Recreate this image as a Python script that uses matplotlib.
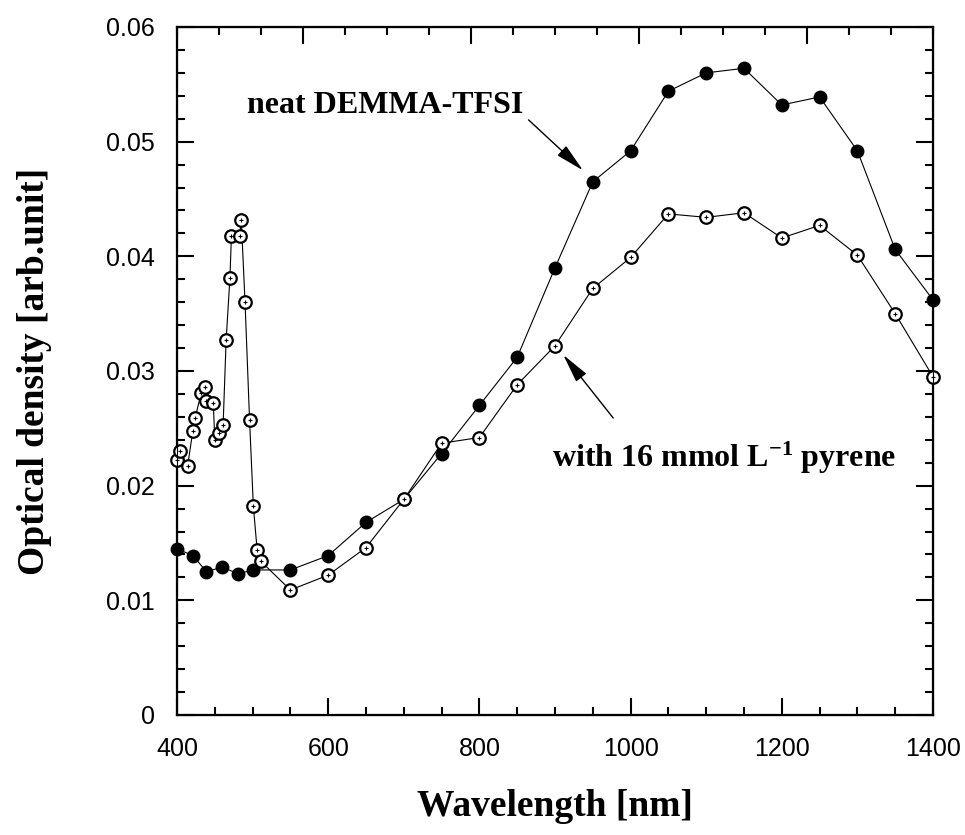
"""Optical density spectra of neat DEMMA-TFSI and with 16 mmol/L pyrene."""
import numpy as np
import matplotlib
matplotlib.use("Agg")
import matplotlib.pyplot as plt
from matplotlib.ticker import MultipleLocator

# neat DEMMA-TFSI (filled circles)
neat_wl = [400, 421, 439, 460, 481, 500, 550, 600, 650, 700, 750, 800, 850,
           900, 950, 1000, 1050, 1100, 1150, 1200, 1250, 1300, 1350, 1400]
neat_od = [0.0145, 0.0139, 0.0125, 0.0129, 0.0123, 0.01265, 0.01265, 0.0139,
           0.0168, 0.0188, 0.0228, 0.0270, 0.0312, 0.0390, 0.0465, 0.0492,
           0.0544, 0.0560, 0.0564, 0.0532, 0.0539, 0.0492, 0.0406, 0.0362]

# with 16 mmol/L pyrene (open circles)
pyr_wl = [400, 404, 414, 421, 424, 432, 437, 439, 448, 450, 456, 461, 465,
          470, 472, 483, 485, 490, 496, 501, 506, 511, 550, 600, 650, 700,
          750, 800, 850, 900, 950, 1000, 1050, 1100, 1150, 1200, 1250, 1300,
          1350, 1400]
pyr_od = [0.0222, 0.0230, 0.0217, 0.0248, 0.0259, 0.0281, 0.0286, 0.0274,
          0.0272, 0.0240, 0.0246, 0.0253, 0.0327, 0.0381, 0.0418, 0.0418,
          0.0432, 0.0360, 0.0257, 0.0182, 0.0144, 0.0134, 0.0109, 0.0122,
          0.0146, 0.0188, 0.0237, 0.0242, 0.0288, 0.0322, 0.0372, 0.0399,
          0.0437, 0.0434, 0.0438, 0.0416, 0.0427, 0.0401, 0.0350, 0.0295]

x_ticks = [400, 600, 800, 1000, 1200, 1400]
y_ticks = [0, 0.01, 0.02, 0.03, 0.04, 0.05, 0.06]
y_tick_labels = ["0", "0.01", "0.02", "0.03", "0.04", "0.05", "0.06"]

serif = "Liberation Serif"
sans = "Liberation Sans"
plt.rcParams["mathtext.fontset"] = "custom"
plt.rcParams["mathtext.rm"] = "Liberation Serif:bold"
plt.rcParams["mathtext.bf"] = "Liberation Serif:bold"
plt.rcParams["mathtext.default"] = "bf"

fig = plt.figure(figsize=(9.65, 8.35), dpi=100)
ax = fig.add_axes([177 / 965, 120 / 835, 756 / 965, 688 / 835])

ax.plot(neat_wl, neat_od, "-", color="black", lw=0.8, marker="o", ms=9,
        mfc="black", mec="black", zorder=3, clip_on=False)
ax.plot(pyr_wl, pyr_od, "-", color="black", lw=0.8, marker="o", ms=9,
        mfc="white", mec="black", mew=1.6, zorder=4, clip_on=False)
ax.plot(pyr_wl, pyr_od, linestyle="none", marker="+", ms=3.5, mew=0.8,
        color="black", zorder=5, clip_on=False)

ax.set_xlim(400, 1400)
ax.set_ylim(0, 0.06)
ax.set_xticks(x_ticks)
ax.set_xticklabels([str(v) for v in x_ticks], family=sans, fontsize=18)
ax.set_yticks(y_ticks)
ax.set_yticklabels(y_tick_labels, family=sans, fontsize=18)
ax.xaxis.set_minor_locator(MultipleLocator(50))
ax.yaxis.set_minor_locator(MultipleLocator(0.002))
ax.tick_params(which="both", direction="in", width=1.5, right=True, top=False)
ax.tick_params(which="major", length=12)
ax.tick_params(which="minor", length=6)
ax.tick_params(axis="x", which="major", pad=16)
ax.tick_params(axis="y", which="major", pad=16)
for sp in ax.spines.values():
    sp.set_linewidth(1.6)

# top axis carries its own (unlabelled) tick scale
top = ax.twiny()
top.set_xlim(-0.3, 1.5)
top.set_xticks([0, 0.4, 0.8, 1.2])
top.xaxis.set_minor_locator(MultipleLocator(0.1))
top.set_xticklabels([])
top.tick_params(which="both", direction="in", width=1.5)
top.tick_params(which="major", length=12)
top.tick_params(which="minor", length=6)

ax.set_xlabel("Wavelength [nm]", family=serif, fontweight="bold", fontsize=27)
ax.xaxis.set_label_coords(0.5, -0.108)
ax.set_ylabel("Optical density [arb.unit]", family=serif, fontweight="bold",
              fontsize=27)
ax.yaxis.set_label_coords(-0.165, 0.5)

ax.text(858, 0.0525, "neat DEMMA-TFSI", family=serif, fontweight="bold",
        fontsize=23, ha="right", va="baseline")
ax.text(896, 0.02165, r"with 16 mmol L$^{-1}$ pyrene", family=serif,
        fontweight="bold", fontsize=23, ha="left", va="baseline")

arrow = dict(arrowstyle="-|>,head_width=0.2,head_length=0.9", color="black",
             lw=1.0, shrinkA=0, shrinkB=0, mutation_scale=20)
ax.annotate("", xy=(937, 0.0475), xytext=(865, 0.0519), arrowprops=arrow)
ax.annotate("", xy=(911, 0.0314), xytext=(977, 0.0259), arrowprops=arrow)

fig.savefig("out.png", dpi=100)
